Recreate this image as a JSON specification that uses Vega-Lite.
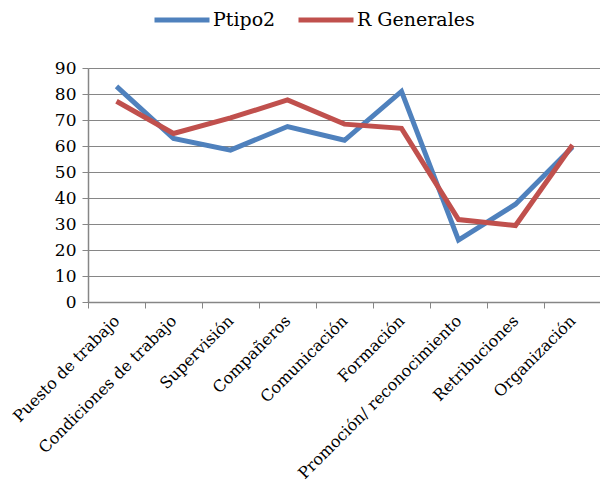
{
  "$schema": "https://vega.github.io/schema/vega-lite/v6.json",
  "autosize": "none",
  "width": 513,
  "height": 234,
  "padding": {"left": 88, "top": 68, "right": 0, "bottom": 195},
  "background": "white",
  "config": {
    "font": "DejaVu Serif",
    "view": {"stroke": null}
  },
  "data": {
    "values": [
      {"cat": "Puesto de trabajo", "serie": "Ptipo2", "v": 82.9},
      {"cat": "Condiciones de trabajo", "serie": "Ptipo2", "v": 62.9},
      {"cat": "Supervisión", "serie": "Ptipo2", "v": 58.4},
      {"cat": "Compañeros", "serie": "Ptipo2", "v": 67.5},
      {"cat": "Comunicación", "serie": "Ptipo2", "v": 62.2},
      {"cat": "Formación", "serie": "Ptipo2", "v": 81},
      {"cat": "Promoción/ reconocimiento", "serie": "Ptipo2", "v": 23.8},
      {"cat": "Retribuciones", "serie": "Ptipo2", "v": 37.6},
      {"cat": "Organización", "serie": "Ptipo2", "v": 59.6},
      {"cat": "Puesto de trabajo", "serie": "R Generales", "v": 77.2},
      {"cat": "Condiciones de trabajo", "serie": "R Generales", "v": 64.8},
      {"cat": "Supervisión", "serie": "R Generales", "v": 70.8},
      {"cat": "Compañeros", "serie": "R Generales", "v": 77.7},
      {"cat": "Comunicación", "serie": "R Generales", "v": 68.4},
      {"cat": "Formación", "serie": "R Generales", "v": 66.8},
      {"cat": "Promoción/ reconocimiento", "serie": "R Generales", "v": 31.7},
      {"cat": "Retribuciones", "serie": "R Generales", "v": 29.4},
      {"cat": "Organización", "serie": "R Generales", "v": 60.4}
    ]
  },
  "mark": {"type": "line", "strokeWidth": 5, "strokeCap": "butt", "strokeJoin": "miter"},
  "encoding": {
    "x": {
      "field": "cat",
      "type": "nominal",
      "sort": null,
      "scale": {"type": "band", "paddingInner": 0, "paddingOuter": 0},
      "axis": {
        "title": null,
        "labelAngle": -45,
        "labelAlign": "right",
        "labelBaseline": "middle",
        "labelFontSize": 16,
        "labelColor": "#000000",
        "labelPadding": 10,
        "tickBand": "extent",
        "tickColor": "#868686",
        "tickSize": 6,
        "domainColor": "#868686",
        "domainWidth": 1.5,
        "grid": false,
        "labelOverlap": false,
        "labelLimit": 300
      }
    },
    "y": {
      "field": "v",
      "type": "quantitative",
      "scale": {"domain": [0, 90], "nice": false},
      "axis": {
        "title": null,
        "values": [0, 10, 20, 30, 40, 50, 60, 70, 80, 90],
        "labelFontSize": 17,
        "labelColor": "#000000",
        "labelPadding": 6,
        "tickColor": "#868686",
        "tickSize": 6,
        "domainColor": "#868686",
        "domainWidth": 1.5,
        "gridColor": "#868686",
        "gridWidth": 1.2,
        "gridOpacity": 1
      }
    },
    "color": {
      "field": "serie",
      "type": "nominal",
      "scale": {"domain": ["Ptipo2", "R Generales"], "range": ["#4F81BD", "#C0504D"]},
      "legend": {
        "title": null,
        "orient": "none",
        "direction": "horizontal",
        "legendX": 64,
        "legendY": -78,
        "symbolType": "stroke",
        "symbolSize": 3025,
        "symbolStrokeWidth": 5,
        "labelFontSize": 19,
        "labelColor": "#000000",
        "labelOffset": 1,
        "columnPadding": 12,
        "symbolOffset": 0
      }
    }
  }
}
